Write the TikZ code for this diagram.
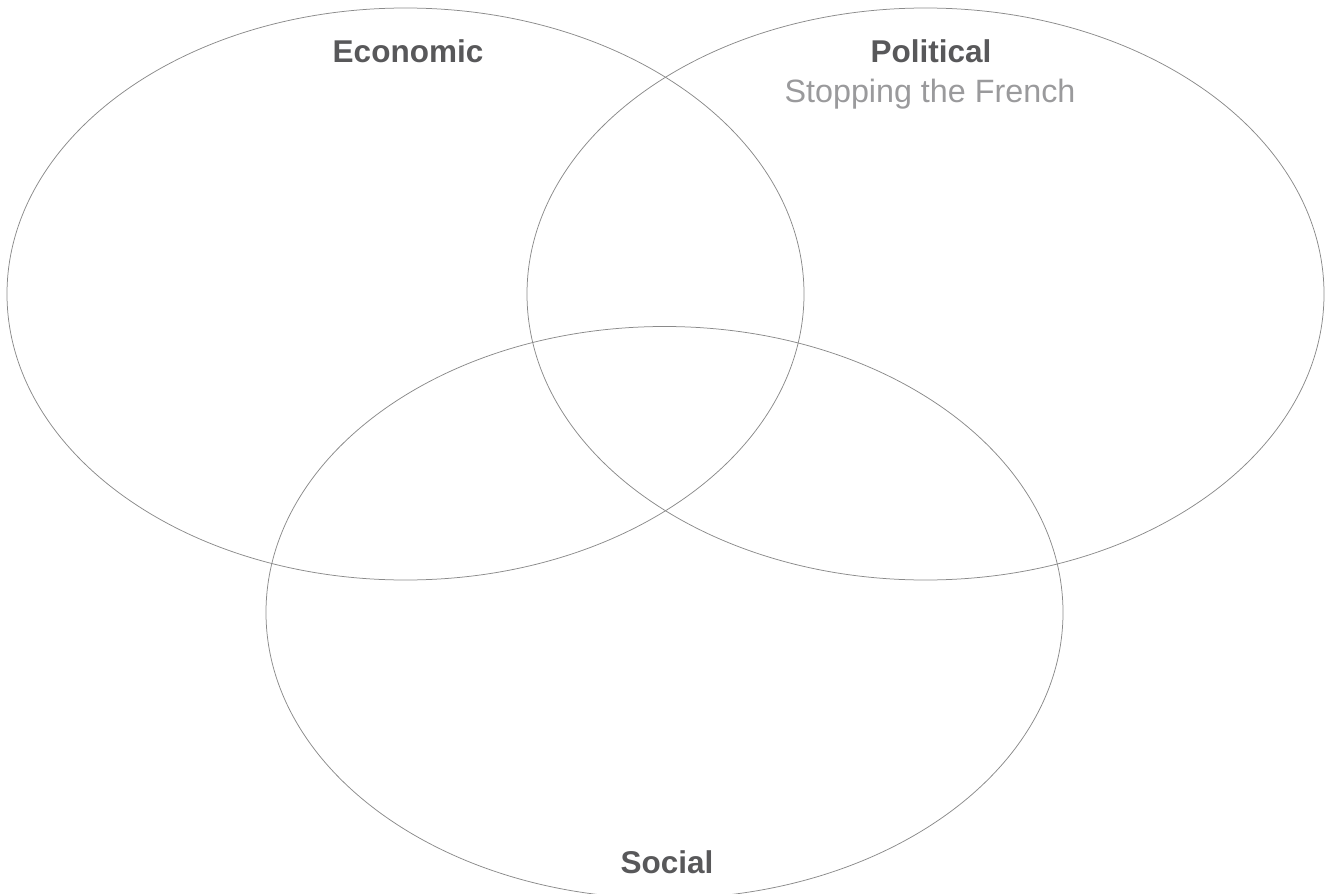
\documentclass[tikz,border=0pt]{standalone}
\usepackage{fontspec}
\setmainfont{Liberation Sans}
\usetikzlibrary{shapes.geometric}
\definecolor{ringgray}{HTML}{8A8A8A}
\definecolor{titlegray}{HTML}{58585A}
\definecolor{subgray}{HTML}{9A9A9C}
\begin{document}
\begin{tikzpicture}[x=1pt,y=-1pt,
  ring/.style={ellipse, draw=ringgray, line width=0.75pt, minimum width=797pt, minimum height=572pt, inner sep=0pt},
  title/.style={text=titlegray, font=\bfseries\fontsize{31.5}{36}\selectfont, inner sep=0pt, anchor=base},
  sub/.style={text=subgray, font=\fontsize{32.3}{36}\selectfont, inner sep=0pt, anchor=base}]
\useasboundingbox (0,0) rectangle (1331,894);
\node[ring] (econ) at (405.5,294) {};
\node[ring] (pol) at (925.5,294) {};
\node[ring] (soc) at (664.5,612.5) {};
\node[title] (econt) at (408,62) {Economic};
\node[title] (polt) at (931,62) {Political};
\node[sub] (polsub) at (930,102) {Stopping the French};
\node[title] (soct) at (667,873) {Social};
\end{tikzpicture}
\end{document}
